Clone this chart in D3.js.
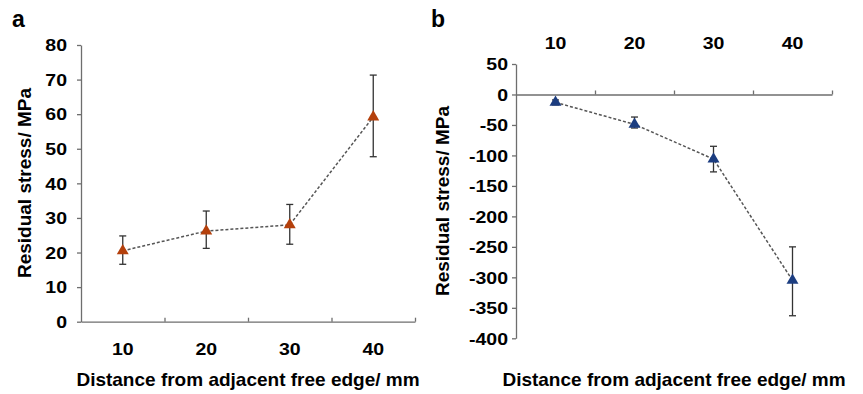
<!DOCTYPE html>
<html>
<head>
<meta charset="utf-8">
<script src="https://cdn.jsdelivr.net/npm/d3@7"></script>
<style>
  html, body { margin: 0; padding: 0; background: #fff; }
  svg { display: block; }
  text { font-family: "Liberation Sans", Arial, sans-serif; font-weight: bold; fill: #000; }
</style>
</head>
<body>
<svg id="chart" width="863" height="394"></svg>
<script>
// ---- data ----
const distances = [10, 20, 30, 40];
const stressA = [20.5, 26.2, 28.0, 59.2];
const errLowA = [16.6, 21.2, 22.4, 47.7];
const errHighA = [24.8, 32.0, 33.9, 71.3];
const stressB = [-13, -49, -106, -305];
const errLowB = [-17, -55, -127, -363];
const errHighB = [-9, -37, -85, -250];
const yTicksA = [0, 10, 20, 30, 40, 50, 60, 70, 80];
const yTicksB = [50, 0, -50, -100, -150, -200, -250, -300, -350, -400];
const xBoundaries = [15, 25, 35, 45];
const xTitle = "Distance from adjacent free edge/ mm";
const yTitle = "Residual stress/ MPa";

const svg = d3.select("#chart");
const axisColor = "#6e6e6e";
const sx = 1.22; // horizontal stretch of tick labels
const tickFont = "16px";

function styleAxis(g) {
  g.selectAll("path.domain").attr("stroke", axisColor).attr("stroke-width", 1.3);
  g.selectAll(".tick line").attr("stroke", axisColor).attr("stroke-width", 1.3);
}

function drawPanel(cfg) {
  const g = svg.append("g");
  const x = d3.scaleLinear().domain([5, 45]).range(cfg.xRange);
  const y = d3.scaleLinear().domain(cfg.yDomain).range(cfg.yRange);

  // y axis
  const yAxis = g.append("g").attr("transform", `translate(${cfg.xRange[0]},0)`)
    .call(d3.axisLeft(y).tickValues(cfg.yTicks).tickSize(4).tickSizeOuter(0).tickFormat(d => String(d)));
  styleAxis(yAxis);
  yAxis.selectAll(".tick text")
    .attr("x", -cfg.yLabelGap / sx)
    .attr("dy", "0.36em")
    .attr("transform", `scale(${sx},1)`)
    .style("font-size", tickFont)
    .style("font-family", "Liberation Sans, Arial, sans-serif")
    .style("font-weight", "bold")
    .attr("fill", "#000");

  // x axis (ticks between categories, pointing up)
  const x0 = y(cfg.xAxisAt);
  const xAxis = g.append("g").attr("transform", `translate(0,${x0})`)
    .call(d3.axisBottom(x).tickValues(xBoundaries).tickSize(-4).tickSizeOuter(0).tickFormat(""));
  styleAxis(xAxis);

  // category labels
  g.append("g").selectAll("text").data(distances).join("text")
    .attr("transform", d => `translate(${x(d)},${cfg.catLabelY}) scale(${sx},1)`)
    .attr("text-anchor", "middle")
    .style("font-size", tickFont)
    .text(d => d);

  // dashed connecting line
  const pts = distances.map((d, i) => [x(d), y(cfg.values[i])]);
  g.append("path")
    .attr("d", d3.line()(pts))
    .attr("fill", "none")
    .attr("stroke", "#555")
    .attr("stroke-width", 1.5)
    .attr("stroke-dasharray", "3,2");

  // error bars
  const eb = g.append("g").attr("stroke", "#333").attr("stroke-width", 1.3);
  distances.forEach((d, i) => {
    const cx = x(d);
    eb.append("line").attr("x1", cx).attr("x2", cx).attr("y1", y(cfg.low[i])).attr("y2", y(cfg.high[i]));
    eb.append("line").attr("x1", cx - 3.5).attr("x2", cx + 3.5).attr("y1", y(cfg.low[i])).attr("y2", y(cfg.low[i]));
    eb.append("line").attr("x1", cx - 3.5).attr("x2", cx + 3.5).attr("y1", y(cfg.high[i])).attr("y2", y(cfg.high[i]));
  });

  // markers
  g.append("g").selectAll("path").data(distances).join("path")
    .attr("transform", (d, i) => `translate(${x(d)},${y(cfg.values[i])})`)
    .attr("d", d3.symbol().type(d3.symbolTriangle).size(62))
    .attr("fill", cfg.color);

  // axis titles
  g.append("text")
    .attr("x", cfg.xTitleX).attr("y", 386)
    .attr("text-anchor", "middle")
    .style("font-size", "19px")
    .text(xTitle);
  g.append("text")
    .attr("transform", `translate(${cfg.yTitleX},${cfg.yTitleY}) rotate(-90)`)
    .attr("text-anchor", "middle")
    .style("font-size", "19px")
    .text(yTitle);

  // panel label
  g.append("text")
    .attr("x", cfg.labelX).attr("y", 27)
    .style("font-size", "23px")
    .text(cfg.label);
}

drawPanel({
  label: "a", labelX: 12,
  xRange: [81, 415], yDomain: [0, 80], yRange: [321.7, 45],
  yTicks: yTicksA, yLabelGap: 14, xAxisAt: 0, catLabelY: 355,
  values: stressA, low: errLowA, high: errHighA, color: "#b4400c",
  xTitleX: 248, yTitleX: 31, yTitleY: 183
});

drawPanel({
  label: "b", labelX: 431,
  xRange: [516, 832], yDomain: [-400, 50], yRange: [338.3, 64],
  yTicks: yTicksB, yLabelGap: 8, xAxisAt: 0, catLabelY: 49,
  values: stressB, low: errLowB, high: errHighB, color: "#1c3d80",
  xTitleX: 674, yTitleX: 449, yTitleY: 201
});
</script>
</body>
</html>
